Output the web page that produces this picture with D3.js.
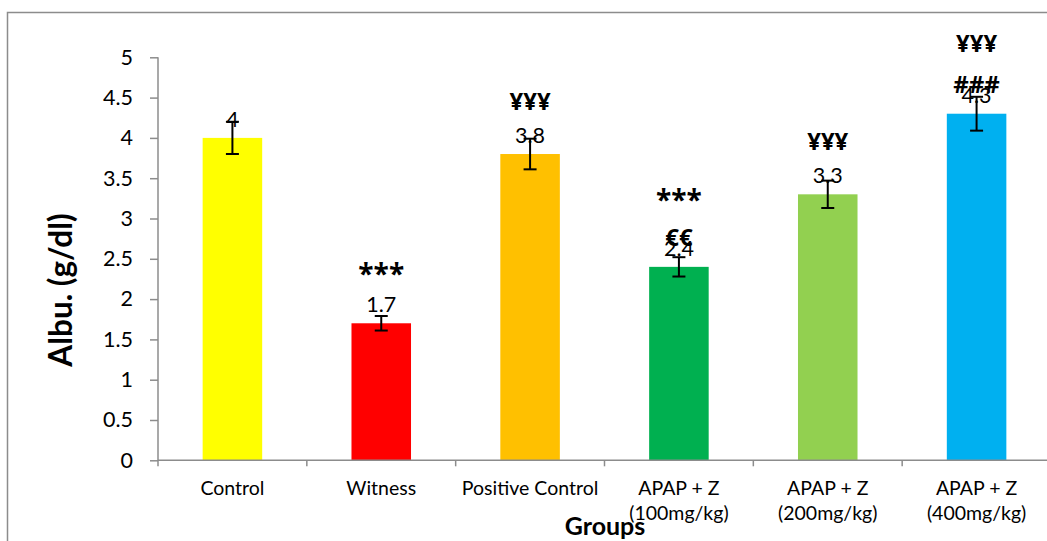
<!DOCTYPE html>
<html><head><meta charset="utf-8">
<script src="https://cdn.jsdelivr.net/npm/d3@7"></script>
<style>body{margin:0;background:#fff}svg{display:block}text{font-family:Lato,"Open Sans",sans-serif;fill:#000}</style>
</head><body><svg id="c" width="1047" height="541"></svg>
<script>
const categories = ["Control","Witness","Positive Control","APAP + Z\n(100mg/kg)","APAP + Z\n(200mg/kg)","APAP + Z\n(400mg/kg)"];
const values = [4, 1.7, 3.8, 2.4, 3.3, 4.3];
const errors = [0.2, 0.09, 0.19, 0.12, 0.17, 0.21];
const valueLabels = ["4","1.7","3.8","2.4","3.3","4.3"];
const annotations = [[], ["***"], ["¥¥¥"], ["***","€€"], ["¥¥¥"], ["¥¥¥","###"]];
const colors = ["#FFFF00","#FF0000","#FFC000","#00B050","#92D050","#00B0F0"];
const yTicks = [0,0.5,1,1.5,2,2.5,3,3.5,4,4.5,5];
const yTitle = "Albu. (g/dl)";
const xTitle = "Groups";

const svg = d3.select("#c");
const pLeft = 158, pRight = 1051, pTop = 57.3, pBottom = 460.3;
const x = d3.scaleBand().domain(categories).range([pLeft, pRight]).paddingInner(0.6).paddingOuter(0.3);
const y = d3.scaleLinear().domain([0,5]).range([pBottom, pTop]);

// outer border
svg.append("path").attr("d","M7.5,541 V12.5 H1047").attr("fill","none").attr("stroke","#8c8c8c").attr("stroke-width",1.5);

// bars
svg.selectAll("rect.bar").data(values).join("rect")
  .attr("x",(d,i)=>x(categories[i])).attr("width",x.bandwidth())
  .attr("y",d=>y(d)).attr("height",d=>pBottom-y(d)).attr("fill",(d,i)=>colors[i]);

// axes
const yAxis = d3.axisLeft(y).tickValues(yTicks).tickFormat(d=>String(d)).tickSize(8).tickPadding(17);
const gy = svg.append("g").attr("transform",`translate(${pLeft},0)`).call(yAxis);
gy.selectAll("path,line").attr("stroke","#8c8c8c").attr("stroke-width",1.5);
gy.select("path").attr("d",`M0,${pTop}V${pBottom}`);
gy.selectAll("text").attr("font-size",21.5).style("font-family","Lato,sans-serif");

const step = x.step();
const bounds = categories.map((c,i)=>pLeft + i*step);
bounds.push(pLeft + categories.length*step);
const gx = svg.append("g");
gx.append("line").attr("x1",pLeft).attr("x2",1047).attr("y1",pBottom).attr("y2",pBottom).attr("stroke","#8c8c8c").attr("stroke-width",1.5);
gx.selectAll("line.t").data(bounds).join("line").attr("class","t")
  .attr("x1",d=>d).attr("x2",d=>d).attr("y1",pBottom).attr("y2",pBottom+6).attr("stroke","#8c8c8c").attr("stroke-width",1.5);
categories.forEach((c,i)=>{
  const cx = x(c)+x.bandwidth()/2;
  const t = gx.append("text").attr("x",cx).attr("y",495).attr("text-anchor","middle").attr("font-size",19.5);
  c.split("\n").forEach((ln,j)=>t.append("tspan").attr("x",cx).attr("dy",j?25:0).text(ln));
});

// error bars
const eg = svg.append("g").attr("stroke","#000").attr("stroke-width",2);
values.forEach((v,i)=>{
  const cx = x(categories[i])+x.bandwidth()/2;
  eg.append("line").attr("x1",cx).attr("x2",cx).attr("y1",y(v+errors[i])).attr("y2",y(v-errors[i]));
  eg.append("line").attr("x1",cx-6.5).attr("x2",cx+6.5).attr("y1",y(v+errors[i])).attr("y2",y(v+errors[i]));
  eg.append("line").attr("x1",cx-6.5).attr("x2",cx+6.5).attr("y1",y(v-errors[i])).attr("y2",y(v-errors[i]));
});

// value labels
values.forEach((v,i)=>{
  const cx = x(categories[i])+x.bandwidth()/2;
  svg.append("text").attr("x",cx).attr("y",y(v)-11).attr("text-anchor","middle").attr("font-size",21.5).text(valueLabels[i]);
});

// significance annotations
annotations.forEach((lines,i)=>{
  const cx = x(categories[i])+x.bandwidth()/2;
  const n = lines.length;
  lines.forEach((s,j)=>{
    const fromBottom = n-1-j;
    const off = (n===1?52:29) + fromBottom*41;
    const isStar = s.indexOf("*")>=0;
    svg.append("text").attr("x",cx).attr("y",y(values[i])-off+(isStar?13:8)).attr("text-anchor","middle")
      .style("font-family","'Open Sans',sans-serif")
      .attr("font-size",isStar?28:24).attr("font-weight","bold").text(s);
  });
});

// titles
svg.append("text").attr("transform","translate(72,290) rotate(-90)").attr("text-anchor","middle")
  .attr("font-size",31.5).attr("font-weight","bold").text(yTitle);
svg.append("text").attr("x",605).attr("y",535).attr("text-anchor","middle").attr("font-size",25).attr("font-weight","bold").text(xTitle);
</script></body></html>
